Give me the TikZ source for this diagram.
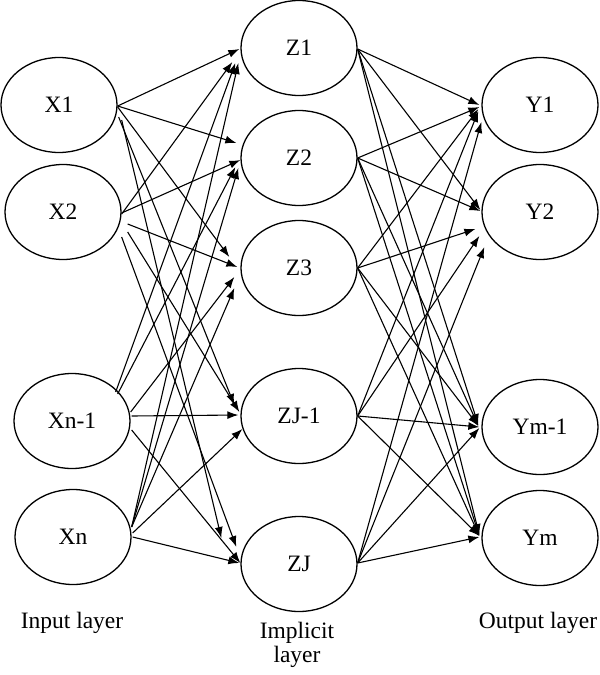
\documentclass[tikz,border=0pt]{standalone}
\usepackage{fontspec}
\setmainfont{Liberation Serif}
\usetikzlibrary{shapes.geometric,arrows.meta}
\begin{document}
\begin{tikzpicture}[x=1pt,y=-1pt,
  neuron/.style={draw,ellipse,line width=1.3pt,minimum width=116pt,minimum height=95pt,inner sep=0pt,font=\fontsize{23.5}{25}\selectfont},
  arr/.style={line width=1.1pt,-{Latex[length=11pt,width=8pt]}},
  lbl/.style={font=\fontsize{23.5}{24}\selectfont,align=center}]
\useasboundingbox (0,0) rectangle (600,675);
\node[neuron] (x1) at (59,105) {X1};
\node[neuron] (x2) at (63,212) {X2};
\node[neuron] (xn1) at (72,421) {Xn-1};
\node[neuron] (xn) at (73,537) {Xn};
\node[neuron] (z1) at (299,48) {Z1};
\node[neuron] (z2) at (299,158) {Z2};
\node[neuron] (z3) at (299,268) {Z3};
\node[neuron] (zj1) at (299,416) {ZJ-1};
\node[neuron] (zj) at (299,564) {ZJ};
\node[neuron] (y1) at (540,105) {Y1};
\node[neuron] (y2) at (540,212) {Y2};
\node[neuron] (ym1) at (540,427) {Ym-1};
\node[neuron] (ym) at (540,538) {Ym};
% X1
\draw[arr] ([shift={(0,1)}]x1.east) -- ([shift={(-1,1)}]z1.west);
\draw[arr] ([shift={(0,1)}]x1.east) -- ([shift={(-4,-15)}]z2.west);
\draw[arr] ([shift={(0,2)}]x1.east) -- ([shift={(-11,-11)}]z3.west);
\draw[arr] ([shift={(1,12)}]x1.east) -- ([shift={(-6,-11)}]zj1.west);
\draw[arr] ([shift={(4,15)}]x1.east) -- ([shift={(-19,-26)}]zj.west);
% X2
\draw[arr] ([shift={(0,2)}]x2.east) -- ([shift={(-8,14)}]z1.west);
\draw[arr] ([shift={(0,1)}]x2.east) -- ([shift={(0,2)}]z2.west);
\draw[arr] ([shift={(6,12)}]x2.east) -- ([shift={(-3,-1)}]z3.west);
\draw[arr] ([shift={(6,20)}]x2.east) -- ([shift={(-1,-4)}]zj1.west);
\draw[arr] ([shift={(0,25)}]x2.east) -- ([shift={(-4,-17)}]zj.west);
% Xn-1
\draw[arr] ([shift={(-15,-29)}]xn1.east) -- ([shift={(-5,15)}]z1.west);
\draw[arr] ([shift={(-13,-27)}]xn1.east) -- ([shift={(-5,9)}]z2.west);
\draw[arr] ([shift={(0,-9)}]xn1.east) -- ([shift={(-6,9)}]z3.west);
\draw[arr] ([shift={(1,-5)}]xn1.east) -- ([shift={(-2,-1)}]zj1.west);
\draw[arr] ([shift={(1,9)}]xn1.east) -- ([shift={(0,-1)}]zj.west);
% Xn
\draw[arr] ([shift={(0,-10)}]xn.east) -- ([shift={(-2,15)}]z1.west);
\draw[arr] ([shift={(0,-10)}]xn.east) -- ([shift={(-2,10)}]z2.west);
\draw[arr] ([shift={(0,-10)}]xn.east) -- ([shift={(-6,20)}]z3.west);
\draw[arr] ([shift={(1,-4)}]xn.east) -- ([shift={(2,13)}]zj1.west);
\draw[arr] ([shift={(1,0)}]xn.east) -- ([shift={(-1,-1)}]zj.west);
% Z1
\draw[arr] ([shift={(0,1)}]z1.east) -- ([shift={(-2,0)}]y1.west);
\draw[arr] ([shift={(0,1)}]z1.east) -- ([shift={(-1,-2)}]y2.west);
\draw[arr] ([shift={(0,1)}]z1.east) -- ([shift={(-3,-2)}]ym1.west);
\draw[arr] ([shift={(0,1)}]z1.east) -- ([shift={(-2,-3)}]ym.west);
% Z2
\draw[arr] (z2.east) -- ([shift={(-2,2)}]y1.west);
\draw[arr] (z2.east) -- ([shift={(-1,-1)}]y2.west);
\draw[arr] (z2.east) -- ([shift={(-3,-1)}]ym1.west);
\draw[arr] (z2.east) -- ([shift={(-2,-2)}]ym.west);
% Z3
\draw[arr] (z3.east) -- ([shift={(-3,4)}]y1.west);
\draw[arr] (z3.east) -- ([shift={(-6,17)}]y2.west);
\draw[arr] (z3.east) -- ([shift={(-3,-1)}]ym1.west);
\draw[arr] (z3.east) -- ([shift={(-2,-2)}]ym.west);
% ZJ-1
\draw[arr] (zj1.east) -- ([shift={(-3,6)}]y1.west);
\draw[arr] (zj1.east) -- ([shift={(-2,24)}]y2.west);
\draw[arr] (zj1.east) -- ([shift={(-2,0)}]ym1.west);
\draw[arr] (zj1.east) -- ([shift={(-2,-2)}]ym.west);
% ZJ
\draw[arr] ([shift={(0,-1)}]zj.east) -- ([shift={(0,17)}]y1.west);
\draw[arr] ([shift={(0,-1)}]zj.east) -- ([shift={(3,35)}]y2.west);
\draw[arr] ([shift={(0,-1)}]zj.east) -- ([shift={(-2,1)}]ym1.west);
\draw[arr] ([shift={(0,-1)}]zj.east) -- ([shift={(-2,-1)}]ym.west);
% labels
\node[lbl] (in) at (72,623) {Input layer};
\node[lbl] (imp) at (297,645) {Implicit\\layer};
\node[lbl] (out) at (538,623) {Output layer};
\end{tikzpicture}
\end{document}
